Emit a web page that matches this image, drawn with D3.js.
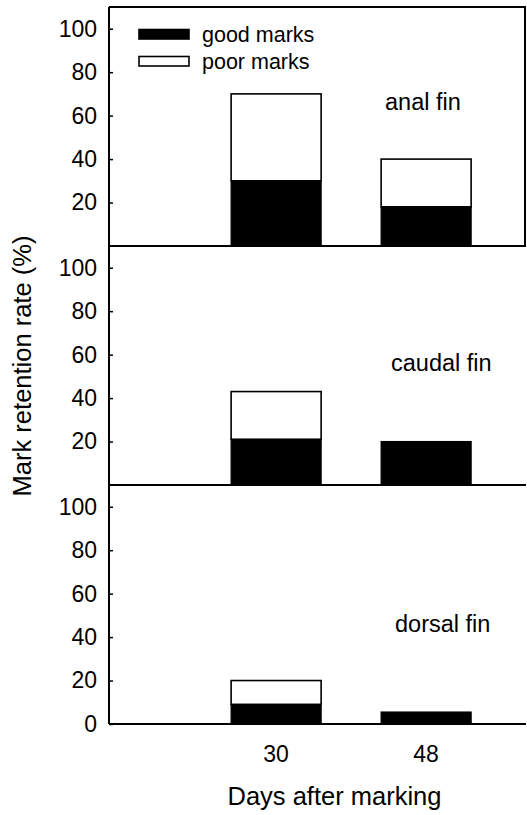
<!DOCTYPE html>
<html><head><meta charset="utf-8">
<script src="https://cdn.jsdelivr.net/npm/d3@7"></script>
<style>
html,body{margin:0;padding:0;background:#fff;}
svg{display:block;font-family:"Liberation Sans",Arial,sans-serif;}
</style></head>
<body>
<svg id="chart" width="527" height="815"></svg>
<script>
// ---- data ----
const categories = ["30", "48"];
const panelNames = ["anal fin", "caudal fin", "dorsal fin"];
const goodAnal = [30, 18];
const poorAnal = [40, 22];
const goodCaudal = [21, 20];
const poorCaudal = [22, 0];
const goodDorsal = [9, 5.5];
const poorDorsal = [11, 0];
const tickValuesUpper = [20, 40, 60, 80, 100];
const tickValuesLower = [0, 20, 40, 60, 80, 100];
const legendLabels = ["good marks", "poor marks"];
const xTitle = "Days after marking";
const yTitle = "Mark retention rate (%)";

const goodSeries = [goodAnal, goodCaudal, goodDorsal];
const poorSeries = [poorAnal, poorCaudal, poorDorsal];
const tickSets = [tickValuesUpper, tickValuesUpper, tickValuesLower];

// ---- layout ----
const left = 109, right = 526;
const panelTop0 = 7, panelH = 239;
const labelPos = [{x: 385, v: 62.5}, {x: 391, v: 52.5}, {x: 395, v: 42.5}];

const svg = d3.select("#chart");
const x = d3.scaleBand().domain(categories).range([left, right])
  .paddingInner(0.4).paddingOuter(0.59).align(0.69);

panelNames.forEach((name, i) => {
  const top = panelTop0 + i * panelH;
  const bottom = top + panelH;
  const y = d3.scaleLinear().domain([0, 110]).range([bottom, top]);
  const g = svg.append("g");

  const rows = categories.map((c, j) => ({c, good: goodSeries[i][j], poor: poorSeries[i][j]}));
  // poor (white, outlined) stacked on good
  g.selectAll("rect.poor").data(rows.filter(d => d.poor > 0)).join("rect")
    .attr("x", d => x(d.c)).attr("width", x.bandwidth())
    .attr("y", d => y(d.good + d.poor)).attr("height", d => y(d.good) - y(d.good + d.poor))
    .attr("fill", "#fff").attr("stroke", "#000").attr("stroke-width", 1.6);
  g.selectAll("rect.good").data(rows).join("rect")
    .attr("x", d => x(d.c)).attr("width", x.bandwidth())
    .attr("y", d => y(d.good)).attr("height", d => y(0) - y(d.good))
    .attr("fill", "#000").attr("stroke", "#000").attr("stroke-width", 1.2);

  // y axis
  const ax = g.append("g").attr("transform", `translate(${left},0)`)
    .call(d3.axisLeft(y).tickValues(tickSets[i]).tickSize(-4).tickPadding(12).tickFormat(d3.format("d")));
  ax.select(".domain").remove();
  ax.selectAll(".tick line").attr("stroke", "#000").attr("stroke-width", 1.5);
  ax.selectAll(".tick text").attr("font-size", 23).attr("fill", "#000")
    .attr("font-family", "Liberation Sans, Arial, sans-serif");

  // frame lines
  g.append("line").attr("x1", left).attr("x2", left).attr("y1", top).attr("y2", bottom)
    .attr("stroke", "#000").attr("stroke-width", 2);
  g.append("line").attr("x1", left).attr("x2", right).attr("y1", bottom).attr("y2", bottom)
    .attr("stroke", "#000").attr("stroke-width", 2);
  if (i === 0) {
    g.append("line").attr("x1", left).attr("x2", right).attr("y1", top).attr("y2", top)
      .attr("stroke", "#000").attr("stroke-width", 2);
    g.append("line").attr("x1", right - 1).attr("x2", right - 1).attr("y1", top).attr("y2", bottom)
      .attr("stroke", "#000").attr("stroke-width", 2);
  }

  // panel label
  g.append("text").attr("x", labelPos[i].x).attr("y", y(labelPos[i].v))
    .attr("font-size", 23.5).attr("fill", "#000").text(name);

  if (i === panelNames.length - 1) {
    // x tick labels
    g.selectAll("text.xt").data(categories).join("text")
      .attr("x", d => x(d) + x.bandwidth() / 2).attr("y", bottom + 38)
      .attr("text-anchor", "middle").attr("font-size", 23).attr("fill", "#000").text(d => d);
  }
});

// legend
const leg = svg.append("g");
leg.selectAll("rect").data(legendLabels).join("rect")
  .attr("x", 139).attr("y", (d, k) => 29.5 + k * 27).attr("width", 50).attr("height", 9.5)
  .attr("fill", (d, k) => k === 0 ? "#000" : "#fff").attr("stroke", "#000").attr("stroke-width", 1.6);
leg.selectAll("text").data(legendLabels).join("text")
  .attr("x", 202).attr("y", (d, k) => 34 + k * 27).attr("dy", "0.35em")
  .attr("font-size", 21.5).attr("fill", "#000").text(d => d);

// axis titles
svg.append("text").attr("x", 334.5).attr("y", 805).attr("text-anchor", "middle")
  .attr("font-size", 25.5).attr("fill", "#000").text(xTitle);
svg.append("text").attr("transform", "translate(31,366) rotate(-90)").attr("text-anchor", "middle")
  .attr("font-size", 25.5).attr("fill", "#000").text(yTitle);
</script>
</body></html>
